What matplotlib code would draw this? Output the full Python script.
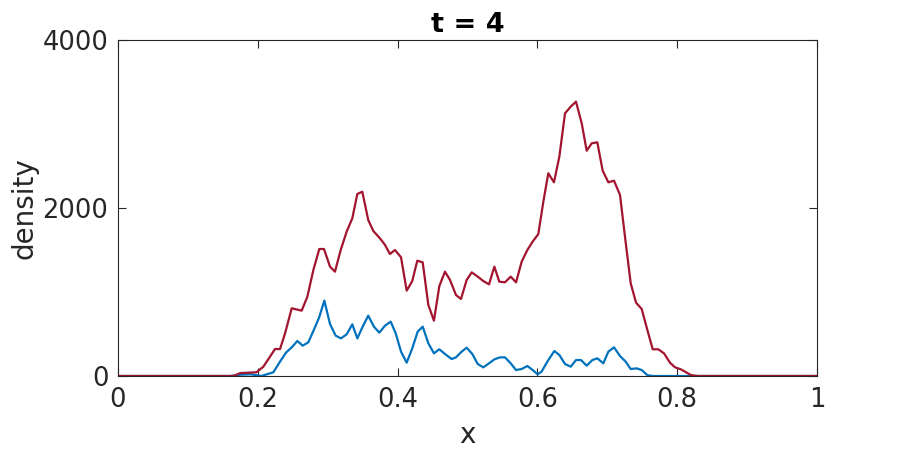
import matplotlib
matplotlib.use("Agg")
import matplotlib.pyplot as plt

title_text = "t = 4"
x_label = "x"
y_label = "density"
x_ticks = [0, 0.2, 0.4, 0.6, 0.8, 1]
x_tick_labels = ["0", "0.2", "0.4", "0.6", "0.8", "1"]
y_ticks = [0, 2000, 4000]
y_tick_labels = ["0", "2000", "4000"]

red_x = [0, 0.165, 0.175, 0.198, 0.208, 0.2246, 0.2318, 0.239, 0.2485, 0.2628,
         0.2709, 0.2795, 0.288, 0.2947, 0.3033, 0.3104, 0.3186, 0.3271, 0.3352, 0.3424,
         0.3495, 0.358, 0.3653, 0.3748, 0.382, 0.389, 0.3963, 0.4049, 0.413, 0.421,
         0.4282, 0.4359, 0.444, 0.452, 0.4597, 0.4678, 0.475, 0.4835, 0.4907, 0.4988,
         0.506, 0.5146, 0.5226, 0.5308, 0.5384, 0.5455, 0.5536, 0.5618, 0.5694, 0.5775,
         0.5856, 0.5932, 0.6013, 0.6085, 0.6156, 0.6237, 0.6314, 0.6395, 0.6476, 0.6552,
         0.6634, 0.6705, 0.6777, 0.6857, 0.6934, 0.7015, 0.7096, 0.7182, 0.7253, 0.7335,
         0.7411, 0.7492, 0.7573, 0.765, 0.773, 0.7811, 0.7897, 0.7969, 0.805, 0.8136,
         0.82, 0.83, 1.0]
red_y = [0, 0, 35, 44, 111, 321, 321, 508, 806, 778,
         944, 1262, 1512, 1512, 1302, 1242, 1500, 1718, 1877, 2167,
         2194, 1857, 1726, 1639, 1560, 1452, 1500, 1413, 1016, 1131,
         1373, 1353, 845, 659, 1071, 1242, 1143, 964, 917, 1143,
         1234, 1183, 1131, 1091, 1302, 1123, 1115, 1183, 1115, 1361,
         1500, 1599, 1690, 2075, 2413, 2306, 2611, 3127, 3206, 3266,
         3008, 2682, 2770, 2782, 2444, 2306, 2325, 2155, 1658, 1103,
         873, 798, 548, 318, 318, 270, 158, 103, 80, 40,
         10, 0, 0]

blue_x = [0, 0.16, 0.175, 0.19, 0.205, 0.2222, 0.2318, 0.2403, 0.2485, 0.2566,
          0.2642, 0.2723, 0.2795, 0.2876, 0.2952, 0.3033, 0.3114, 0.319, 0.3271, 0.3352,
          0.3424, 0.35, 0.358, 0.3662, 0.3738, 0.382, 0.3901, 0.3973, 0.4049, 0.413,
          0.421, 0.4287, 0.4359, 0.444, 0.452, 0.4597, 0.4678, 0.4773, 0.4835, 0.4916,
          0.4988, 0.5069, 0.5146, 0.5226, 0.5308, 0.5384, 0.5465, 0.5536, 0.5618, 0.5694,
          0.5775, 0.5856, 0.5932, 0.6004, 0.606, 0.6142, 0.6242, 0.6314, 0.6395, 0.6476,
          0.6552, 0.6624, 0.6705, 0.6786, 0.6857, 0.6943, 0.7015, 0.7096, 0.7182, 0.7263,
          0.7335, 0.742, 0.7492, 0.7573, 0.765, 1.0]
blue_y = [0, 0, 15, 20, 0, 44, 171, 278, 341, 417,
          361, 401, 536, 694, 897, 619, 480, 448, 496, 615,
          448, 587, 718, 587, 516, 599, 647, 508, 290, 159,
          329, 528, 587, 389, 270, 318, 262, 202, 222, 290,
          337, 262, 143, 103, 151, 198, 222, 222, 151, 71,
          83, 119, 71, 20, 52, 171, 298, 250, 143, 111,
          190, 190, 123, 190, 210, 151, 290, 341, 238, 171,
          83, 91, 71, 10, 0, 0]

text_color = "#262626"
plt.rcParams["font.family"] = ["DejaVu Sans"]

fig = plt.figure(figsize=(9.03, 4.5), dpi=100)
ax = fig.add_axes([118 / 903, 74 / 450, 699 / 903, 336 / 450])

ax.plot(blue_x, blue_y, color="#0072BD", linewidth=1.6)
ax.plot(red_x, red_y, color="#A2142F", linewidth=1.6)

ax.set_xlim(0, 1)
ax.set_ylim(0, 4000)
ax.set_xticks(x_ticks)
ax.set_xticklabels(x_tick_labels)
ax.set_yticks(y_ticks)
ax.set_yticklabels(y_tick_labels)
ax.tick_params(direction="in", top=True, right=True, length=6, width=0.8,
               labelsize=18.5, colors=text_color)
ax.tick_params(axis="x", pad=8)
ax.tick_params(axis="y", pad=7)
for s in ax.spines.values():
    s.set_color(text_color)
    s.set_linewidth(0.8)

ax.set_xlabel(x_label, fontsize=20, color=text_color, labelpad=6)
ax.set_ylabel(y_label, fontsize=20, color=text_color, labelpad=3)
ax.set_title(title_text, fontsize=19.5, fontweight="bold", color="black", pad=6)

fig.savefig("out.png", dpi=100)
